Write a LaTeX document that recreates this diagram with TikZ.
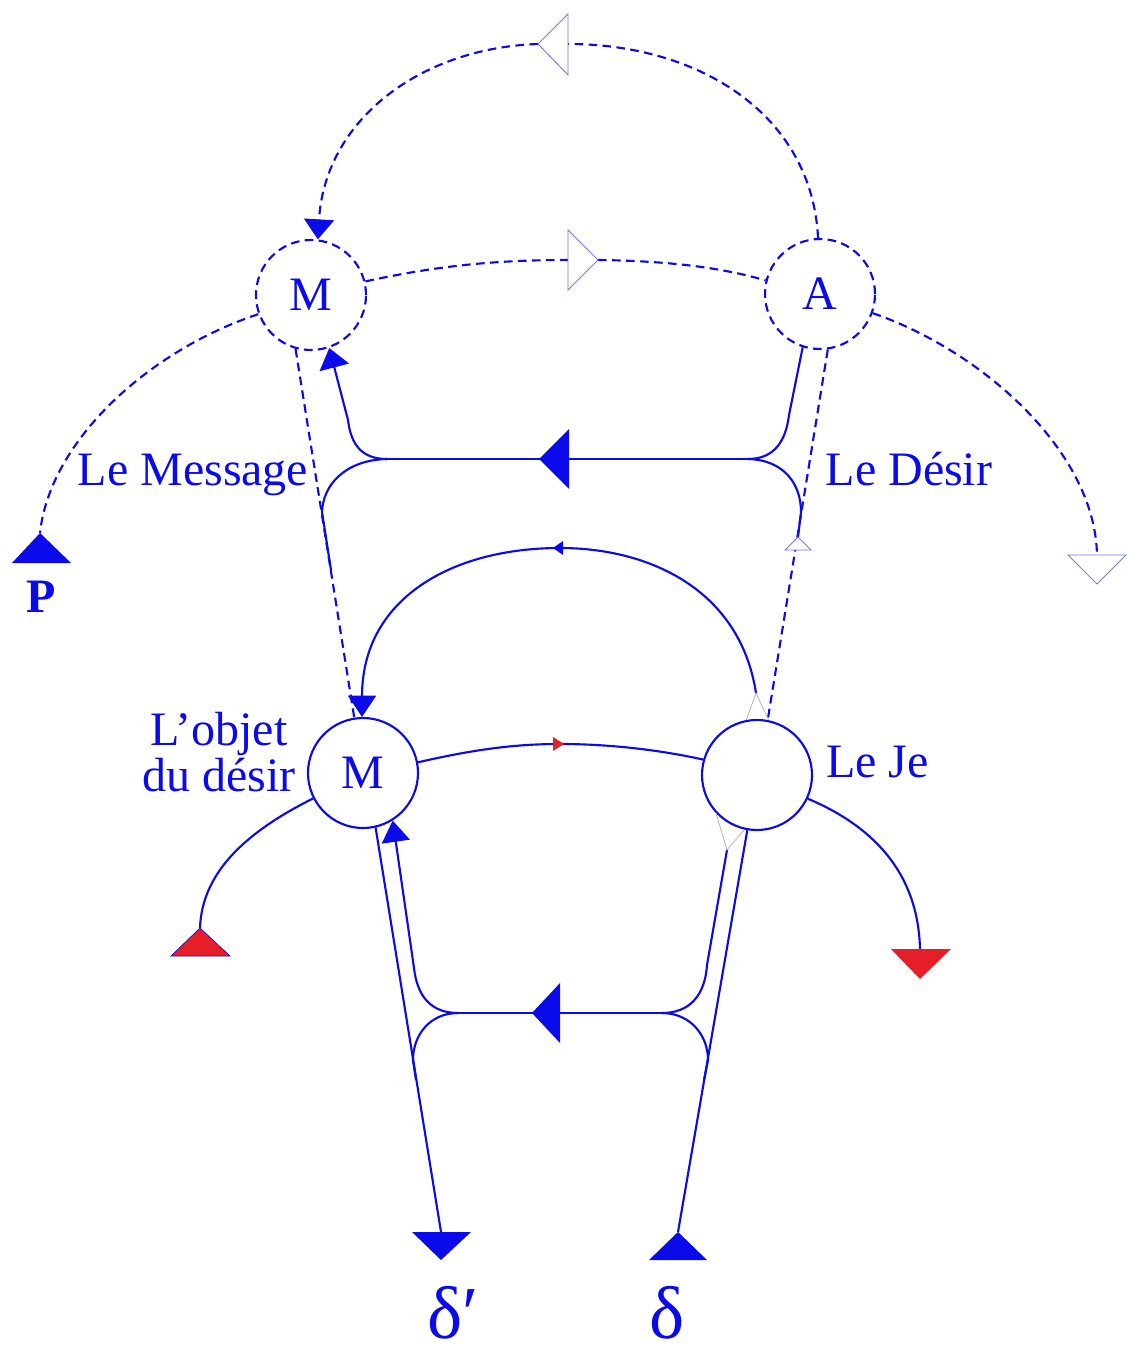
\documentclass[tikz,border=0pt]{standalone}
\usepackage{fontspec}
\setmainfont{Liberation Serif}
\usetikzlibrary{arrows.meta}
\definecolor{mainblue}{RGB}{10,10,235}
\definecolor{paleblue}{RGB}{120,120,225}
\definecolor{redtri}{RGB}{230,30,40}
\begin{document}
\begin{tikzpicture}[x=0.75pt,y=-0.75pt,
  ln/.style={draw=mainblue,line width=1.6pt},
  dsh/.style={ln,dash pattern=on 6.5pt off 4pt},
  ring/.style={circle,minimum size=82.5pt,inner sep=0pt,line width=1.6pt,draw=mainblue,text=mainblue,font=\fontsize{36}{36}\selectfont},
  lbl/.style={text=mainblue,font=\fontsize{36}{35}\selectfont,inner sep=0pt},
  opentri/.style={draw=paleblue,line width=0.7pt,fill=white},
  greytri/.style={draw=gray!60,line width=0.6pt},
  tipA/.style={-{Triangle[width=22.5pt,length=15pt]}},
  tipB/.style={-{Triangle[width=21pt,length=16pt]}}]
\path[use as bounding box] (0,0) rectangle (1128,1355);

% circles
\node[ring,dsh] (Mt) at (311,295) {M};
\node[ring,dsh] (At) at (820,294) {A};
\node[ring] (Mb) at (363,773) {M};
\node[ring] (Je) at (757,775) {};

% coordinates
\coordinate (topL) at (538,44);
\coordinate (topR) at (568,44);
\coordinate (midL) at (568,260);
\coordinate (midR) at (598,260);
\coordinate (Ptip) at (40,533);
\coordinate (Rtri) at (1097,555);
\coordinate (jl) at (387,459);
\coordinate (jr) at (748,459);
\coordinate (jlend) at (331,570);
\coordinate (jrend) at (798,537);
\coordinate (jtop) at (756,693);
\coordinate (bl) at (458,1013);
\coordinate (br) at (662,1013);
\coordinate (blend) at (416,1080);
\coordinate (brend) at (704,1080);
\coordinate (jbot) at (727,850);
\coordinate (dpbase) at (441,1232);
\coordinate (dtip) at (678,1232);
\coordinate (redL) at (200,928);
\coordinate (redR) at (920,949);

% top dashed arc
\draw[dsh] (At.92) .. controls (812,115) and (700,44) .. (topR);
\draw[dsh,tipA] (topL) .. controls (420,48) and (325,120) .. (Mt.83);
\filldraw[opentri] (topL) -- (568,14) -- (568,75) -- cycle;

% middle dashed M -> A
\draw[dsh] (Mt.14) .. controls (440,265) and (500,260) .. (midL);
\draw[dsh] (midR) .. controls (680,261) and (730,270) .. (At.166);
\filldraw[opentri] (midR) -- (568,230) -- (568,290) -- cycle;

% M -> P
\draw[dsh] (Mt.200) .. controls (150,350) and (50,440) .. (Ptip);
\fill[mainblue] (Ptip) -- (71,563) -- (12,563) -- cycle;
\node[text=mainblue,inner sep=0pt,font=\bfseries\fontsize{36}{36}\selectfont] (P) at (41,597) {P};

% A -> right open triangle
\draw[dsh] (At.-20) .. controls (980,350) and (1095,450) .. (Rtri);
\filldraw[opentri] (1068,555) -- (1126,555) -- (1097,584) -- cycle;

% long dashed lines
\draw[dsh] (Mt.-106) -- (Mb.99);
\draw[dsh] (At.-82) -- (Je.79);

% upper solid graph
\draw[ln] (jl) -- (jr);
\fill[mainblue] (539,459) -- (569,429) -- (569,489) -- cycle;
\draw[ln,tipA] (jl) .. controls (362,459) and (351,445) .. (348,420) -- (Mt.-71);
\draw[ln] (jl) .. controls (345,460) and (323,485) .. (322,512) -- (jlend);
\draw[ln] (jr) .. controls (775,459) and (786,440) .. (789,415) -- (At.-108);
\draw[ln] (jr) .. controls (785,460) and (801,485) .. (801,512) -- (jrend);
\filldraw[opentri] (jrend) -- (785,550) -- (811,550) -- cycle;

% arc Je -> M (bottom)
\draw[ln,tipB] (jtop) .. controls (740,590) and (650,548) .. (560,548) .. controls (450,548) and (362,600) .. (Mb.91);
\fill[mainblue] (553,548) -- (563,541) -- (563,555) -- cycle;
\draw[greytri] (Je.101) -- (jtop) -- (Je.78);

% arc M -> Je
\draw[ln] (Mb.11) .. controls (480,748) and (520,744) .. (560,744) .. controls (610,744) and (660,750) .. (Je.164);
\fill[redtri] (564,744) -- (553,737) -- (553,751) -- cycle;

% red ends
\draw[ln] (Mb.207) .. controls (250,830) and (202,870) .. (redL);
\filldraw[fill=redtri,draw=mainblue,line width=0.5pt] (redL) -- (230,956) -- (171,956) -- cycle;
\draw[ln] (Je.-25) .. controls (870,825) and (918,870) .. (redR);
\fill[redtri] (891,949) -- (951,949) -- (920,979) -- cycle;

% lower solid graph
\draw[ln] (bl) -- (br);
\fill[mainblue] (532,1013) -- (560,983) -- (560,1043) -- cycle;
\draw[ln,tipB] (bl) .. controls (430,1013) and (417,995) .. (414,968) -- (Mb.-58);
\draw[ln] (bl) .. controls (430,1013) and (413,1035) .. (413,1060) -- (blend);
\draw[ln] (Mb.-77) -- (dpbase);
\fill[mainblue] (412,1232) -- (471,1232) -- (441,1260) -- cycle;
\draw[ln] (br) .. controls (690,1013) and (705,995) .. (707,965) -- (jbot);
\draw[greytri] (Je.223) -- (jbot) -- (Je.-103);
\draw[ln] (br) .. controls (690,1013) and (708,1035) .. (708,1060) -- (brend);
\draw[ln] (Je.-100) -- (dtip);
\fill[mainblue] (dtip) -- (707,1260) -- (649,1260) -- cycle;

% labels
\node[lbl,anchor=base] (msg) at (193,485) {Le Message};
\node[lbl,anchor=base] (des) at (909,485) {Le Désir};
\node[lbl,align=center] (obj) at (219,752) {L'objet\\du désir};
\node[lbl,anchor=base west] (je) at (826,777) {Le Je};
\node[text=mainblue,inner sep=0pt,font=\fontsize{56}{56}\selectfont,anchor=base] (dp) at (453,1338) {δ′};
\node[text=mainblue,inner sep=0pt,font=\fontsize{56}{56}\selectfont,anchor=base] (d) at (667,1338) {δ};
\end{tikzpicture}
\end{document}
